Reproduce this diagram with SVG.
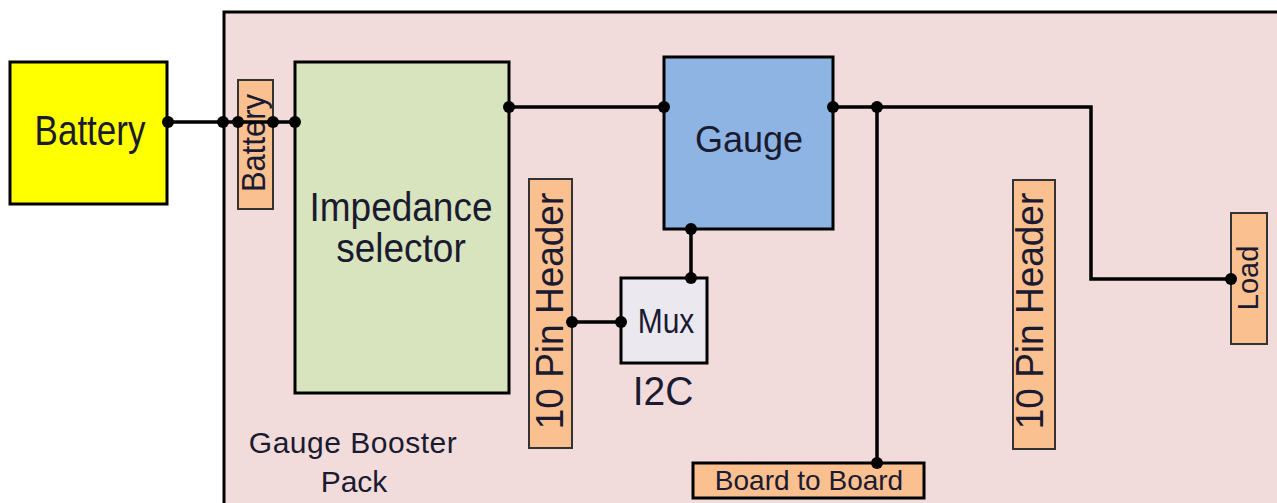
<svg xmlns="http://www.w3.org/2000/svg" width="1277" height="503" viewBox="0 0 1277 503">
<defs>
<style>
text{font-family:"Liberation Sans",Arial,sans-serif;fill:#1a1a30;text-anchor:middle}
.blk{stroke:#000;stroke-width:3}
.pin{fill:#fac090;stroke:#333;stroke-width:2}
.wire{fill:none;stroke:#000;stroke-width:3.5}
.dot{fill:#000}
</style>
</defs>
<rect width="1277" height="503" fill="#fff"/>
<g id="panel">
<rect x="224" y="12" width="1070" height="510" fill="#f2dcdb" class="blk"/>
<text x="353" y="453" font-size="30" letter-spacing="0.5">Gauge Booster</text>
<text x="354" y="492" font-size="30">Pack</text>
</g>
<g id="battery">
<rect x="10" y="62" width="157" height="142" fill="#ffff00" class="blk"/>
<text transform="translate(90,145) scale(1,1.2)" font-size="35">Battery</text>
</g>
<g id="battery-pin">
<rect x="238" y="80" width="35" height="129" class="pin"/>
<text transform="translate(265,143) rotate(-90) scale(1,1.1)" font-size="31">Battery</text>
</g>
<g id="impedance">
<rect x="295" y="62" width="214" height="331" fill="#d7e4bd" class="blk"/>
<text transform="translate(401,221) scale(1,1.1)" font-size="37">Impedance</text>
<text transform="translate(401,262) scale(1,1.1)" font-size="37">selector</text>
</g>
<g id="gauge">
<rect x="664" y="57" width="169" height="172" fill="#8eb4e3" class="blk"/>
<text x="749" y="152" font-size="36">Gauge</text>
</g>
<g id="mux">
<rect x="621" y="278" width="86" height="85" fill="#ece8f0" class="blk"/>
<text transform="translate(666,333) scale(1,1.15)" font-size="30">Mux</text>
<text transform="translate(663,405) scale(1,1.05)" font-size="39">I2C</text>
</g>
<g id="header-left">
<rect x="529" y="179" width="43" height="269" class="pin"/>
<text transform="translate(563,311) rotate(-90) scale(1,1.05)" font-size="37">10 Pin Header</text>
</g>
<g id="header-right">
<rect x="1013" y="180" width="42" height="269" class="pin"/>
<text transform="translate(1043,311) rotate(-90) scale(1,1.05)" font-size="37">10 Pin Header</text>
</g>
<g id="load">
<rect x="1231" y="213" width="36" height="131" class="pin"/>
<text transform="translate(1258,278) rotate(-90)" font-size="29">Load</text>
</g>
<g id="board-to-board">
<rect x="693" y="463" width="231" height="35" fill="#fac090" class="blk"/>
<text x="809" y="490" font-size="28">Board to Board</text>
</g>
<g id="connectors">
<path class="wire" d="M167 122H295"/>
<path class="wire" d="M509 107H664"/>
<path class="wire" d="M833 107H1091V279H1231"/>
<path class="wire" d="M877 107V463"/>
<path class="wire" d="M691 229V278"/>
<path class="wire" d="M572 322H621"/>
<circle class="dot" cx="168" cy="122" r="6"/>
<circle class="dot" cx="223" cy="122" r="6"/>
<circle class="dot" cx="238" cy="122" r="6"/>
<circle class="dot" cx="273" cy="122" r="6"/>
<circle class="dot" cx="295" cy="122" r="6"/>
<circle class="dot" cx="509" cy="107" r="6"/>
<circle class="dot" cx="664" cy="107" r="6"/>
<circle class="dot" cx="833" cy="107" r="6"/>
<circle class="dot" cx="877" cy="107" r="6"/>
<circle class="dot" cx="877" cy="463" r="6"/>
<circle class="dot" cx="1231" cy="279" r="6"/>
<circle class="dot" cx="691" cy="229" r="6"/>
<circle class="dot" cx="691" cy="278" r="6"/>
<circle class="dot" cx="572" cy="322" r="6"/>
<circle class="dot" cx="621" cy="322" r="6"/>
</g>
</svg>
